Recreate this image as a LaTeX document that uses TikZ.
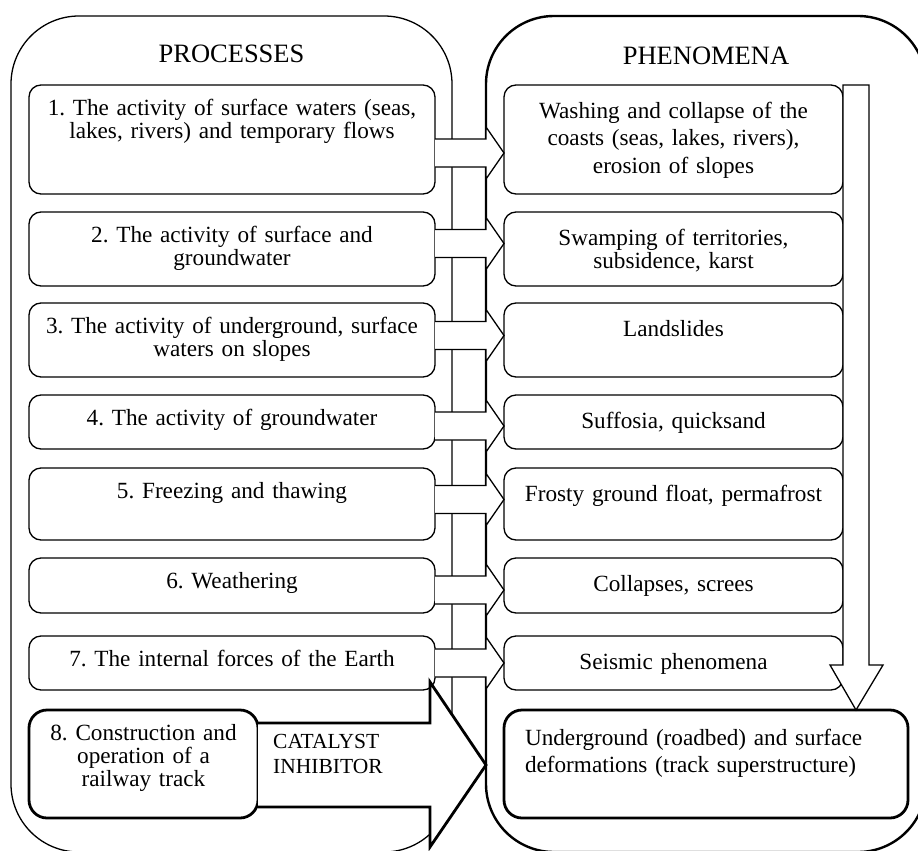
\documentclass[tikz,border=0pt]{standalone}
\usepackage{fontspec}
\setmainfont{Liberation Serif}
\usepackage{tikz}
\frenchspacing

\newcommand{\boxtext}{\fontsize{23.2}{23.4}\selectfont}
\newcommand{\widetext}{\fontsize{23.2}{27.5}\selectfont}
\newcommand{\headtext}{\fontsize{26.5}{30}\selectfont}
\newcommand{\tagtext}{\fontsize{21.5}{25}\selectfont}

\tikzset{
  frame/.style={draw, rounded corners=68pt, anchor=north west, outer sep=0pt, inner sep=0pt},
  head/.style={anchor=base, inner sep=0pt, font=\headtext},
  procbox/.style={draw, line width=1.3pt, rounded corners=12pt, anchor=north west, outer sep=0pt,
    inner xsep=5pt, inner ysep=0pt, text width=396pt, align=center, text height=30pt, font=\boxtext},
  phenbox/.style={procbox, text width=329pt, text height=33pt},
  keybox/.style={line width=2.8pt, rounded corners=18pt},
  flow/.style={draw, fill=white, line width=1.3pt, line join=miter},
  tag/.style={anchor=north west, align=left, inner sep=0pt, font=\tagtext}
}

% arrow from a process to its phenomenon, centred at height #3
\newcommand{\sidearrow}[3]{%
  \draw[flow] (#1.east |- 0,#3-14) -- (phenomena.west |- 0,#3-14) -- (phenomena.west |- 0,#3-26)
    -- (#2.west |- 0,#3) -- (phenomena.west |- 0,#3+26) -- (phenomena.west |- 0,#3+14) -- (#1.east |- 0,#3+14);}

\begin{document}
\begin{tikzpicture}[x=1pt, y=-1pt]
\useasboundingbox (0,0) rectangle (918,851);

\node[frame, line width=1.3pt, minimum width=441pt, minimum height=836pt] (processes) at (11,16) {};
\node[frame, line width=2.4pt, minimum width=440pt, minimum height=836pt] (phenomena) at (486,16) {};
\node[head] (ptitle) at (231.5,63) {PROCESSES};
\node[head] (ftitle) at (706,64) {PHENOMENA};

\node[procbox, text depth=79pt] (p1) at (29,85) {1. The activity of surface waters (seas,\\lakes, rivers) and temporary flows};
\node[procbox, text depth=44pt] (p2) at (29,212) {2. The activity of surface and\\groundwater};
\node[procbox, text depth=44pt] (p3) at (29,303) {3. The activity of underground, surface\\waters on slopes};
\node[procbox, text depth=24pt] (p4) at (29,395) {4. The activity of groundwater};
\node[procbox, text depth=42pt] (p5) at (29,468) {5. Freezing and thawing};
\node[procbox, text depth=25pt] (p6) at (29,558) {6. Weathering};
\node[procbox, text depth=24pt] (p7) at (29,636) {7. The internal forces of the Earth};
\node[procbox, keybox, text width=219pt, text depth=78pt] (p8) at (29,710) {8. Construction and\\operation of a\\railway track};

\node[phenbox, font=\widetext, text depth=76pt] (f1) at (504,85) {Washing and collapse of the\\coasts (seas, lakes, rivers),\\erosion of slopes};
\node[phenbox, text depth=41pt] (f2) at (504,212) {Swamping of territories,\\subsidence, karst};
\node[phenbox, text depth=41pt] (f3) at (504,303) {Landslides};
\node[phenbox, text depth=21pt] (f4) at (504,395) {Suffosia, quicksand};
\node[phenbox, text depth=39pt] (f5) at (504,468) {Frosty ground float, permafrost};
\node[phenbox, text depth=22pt] (f6) at (504,558) {Collapses, screes};
\node[phenbox, text depth=21pt] (f7) at (504,636) {Seismic phenomena};
\node[phenbox, keybox, font=\widetext, align=left, inner xsep=21pt, text width=362pt,
  text height=35pt, text depth=73pt] (f8) at (504,710) {Underground (roadbed) and surface\\deformations (track superstructure)};

\sidearrow{p1}{f1}{153}
\sidearrow{p2}{f2}{243.5}
\sidearrow{p3}{f3}{335.5}
\sidearrow{p4}{f4}{426}
\sidearrow{p5}{f5}{499.5}
\sidearrow{p6}{f6}{590}
\sidearrow{p7}{f7}{663}

\draw[flow] (f1.north east) -- ++(26,0) -- ++(0,580) -- ++(14,0) -- (f8.north -| 856,0) -- (830,665) -- ++(13,0) -- cycle;

\draw[flow, line width=2.8pt] (p8.east |- 0,723) -- (430,723) -- (430,682) -- (phenomena.west |- 0,765)
  -- (430,847) -- (430,807) -- (p8.east |- 0,807);
\node[tag] (catalyst) at (273,734) {CATALYST\\INHIBITOR};
\end{tikzpicture}
\end{document}
